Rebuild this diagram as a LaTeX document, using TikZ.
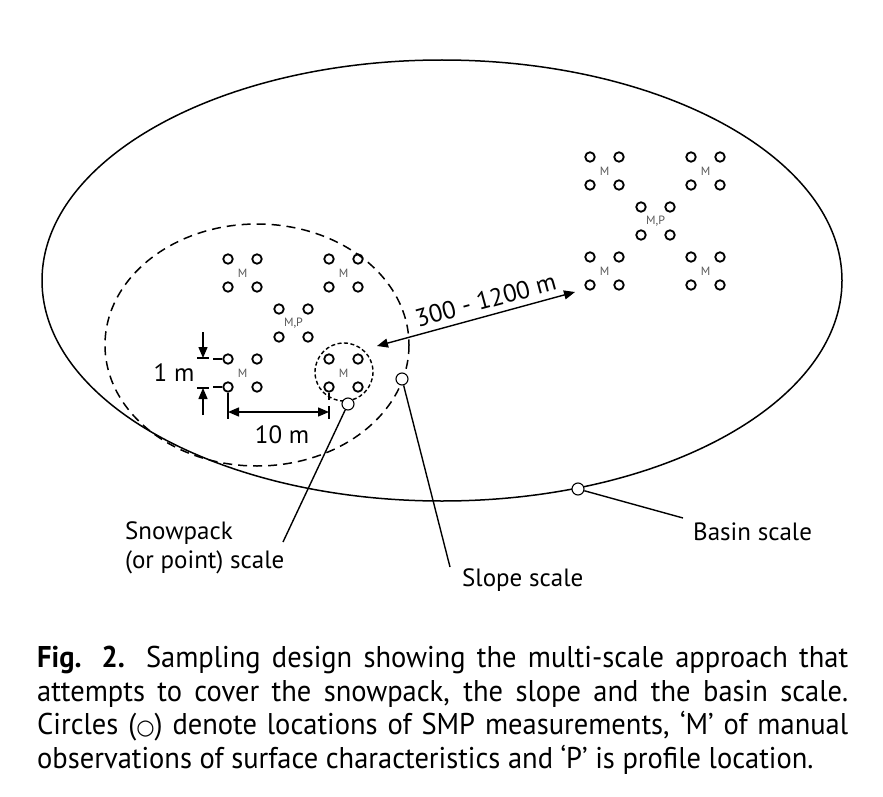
\documentclass[tikz,border=0pt]{standalone}
\usepackage{fontspec}
\setmainfont{PT Sans}
\newfontfamily\capfont{PT Sans}[FakeStretch=0.95]
\newfontfamily\symfont{DejaVu Sans}
\usetikzlibrary{arrows.meta}

\tikzset{
  smp/.style={circle, draw, line width=1.8pt, minimum size=9.5pt, inner sep=0pt},
  scaletag/.style={circle, draw, line width=1.1pt, minimum size=12pt, inner sep=0pt},
  obs/.style={font=\fontsize{12}{12}\selectfont, text=black!65, inner sep=0pt},
  lbl/.style={font=\fontsize{25}{29}\selectfont, inner sep=0pt},
  captext/.style={font=\capfont\fontsize{30}{34}\selectfont, inner sep=0pt},
  leadline/.style={line width=1.4pt},
  pointer/.style={line width=1.4pt, -{Triangle[length=11pt, width=9pt]}},
  dimarrow/.style={line width=1.4pt, {Triangle[length=11pt, width=9pt]}-{Triangle[length=11pt, width=9pt]}},
}

% one group of four SMP holes with its label in the middle
\newcommand{\smpgrid}[4]{%
  \node[smp] (#1a) at (#2,#3) {};
  \node[smp] (#1b) at (#2+29,#3) {};
  \node[smp] (#1c) at (#2,#3+28) {};
  \node[smp] (#1d) at (#2+29,#3+28) {};
  \node[obs] (#1m) at (#2+14.5,#3+14) {#4};
}

\begin{document}
\begin{tikzpicture}[x=1pt, y=-1pt]
  \useasboundingbox (0,0) rectangle (883,797);

  % === basin and slope outlines ===
  \draw[line width=1.5pt] (442,280.5) ellipse [x radius=400, y radius=220.5];
  \draw[line width=1.5pt, dash pattern=on 9pt off 6pt] (257,345) ellipse [x radius=152, y radius=121];
  \draw[line width=1.4pt, dash pattern=on 4pt off 2.5pt] (344,372) circle [radius=29];

  % === sampling grids (left slope, right slope) ===
  \foreach \g/\ox/\oy in {L/0/0, R/362/-102} {
    \smpgrid{\g1}{228+\ox}{259+\oy}{M}
    \smpgrid{\g2}{329+\ox}{259+\oy}{M}
    \smpgrid{\g3}{279+\ox}{309+\oy}{M,P}
    \smpgrid{\g4}{228+\ox}{359+\oy}{M}
    \smpgrid{\g5}{329+\ox}{359+\oy}{M}
  }

  % === 1 m spacing ===
  \coordinate (onetop) at (203,358);
  \coordinate (onebot) at (203,388);
  \draw[leadline] (L4a.west) -- ++(-9,0);
  \draw[leadline] (L4c.west) -- ++(-9,0);
  \draw[leadline] (onetop) ++(-6,0) -- ++(12,0);
  \draw[leadline] (onebot) ++(-6,0) -- ++(12,0);
  \draw[pointer] (onetop) ++(0,-26) -- (onetop);
  \draw[pointer] (onebot) ++(0,27) -- (onebot);
  \node[lbl] (onelbl) at (174,373) {1 m};

  % === 10 m spacing ===
  \coordinate (tenL) at (228,412);
  \coordinate (tenR) at (329,412);
  \draw[leadline] (L4c.south) -- (228,419);
  \draw[leadline] (L5c.south) -- ++(0,7);
  \draw[leadline] (tenR) ++(0,-6) -- ++(0,13);
  \draw[dimarrow] (tenL) -- (tenR);
  \node[lbl] (tenlbl) at (282,435) {10 m};

  % === distance between slopes ===
  \coordinate (near) at (377,346);
  \coordinate (far) at (575,292);
  \draw[dimarrow] (near) -- node[lbl, sloped, pos=0.57, above=6pt] {300 - 1200 m} (far);

  % === scale labels ===
  \node[scaletag, fill=white] (snowtag) at (348,404) {};
  \node[scaletag, fill=white] (slopetag) at (402,379) {};
  \node[scaletag, fill=white] (basintag) at (578,489) {};
  \coordinate (snowend) at (283,542);
  \coordinate (slopeend) at (450,567);
  \coordinate (basinend) at (683,518);
  \draw[leadline] (snowtag) -- (snowend);
  \draw[leadline] (slopetag) -- (slopeend);
  \draw[leadline] (basintag) -- (basinend);
  \node[lbl, anchor=west, align=left] (snowlbl) at (125,548) {Snowpack\\(or point) scale};
  \node[lbl, anchor=west] (slopelbl) at (462,580) {Slope scale};
  \node[lbl, anchor=west] (basinlbl) at (693,532) {Basin scale};

  % === caption ===
  \node[captext, anchor=base west] (cap1) at (37,667) {\makebox[811pt][s]{\textbf{Fig. 2.} Sampling design showing the multi-scale approach that}};
  \node[captext, anchor=base west] (cap2) at (37,701) {\makebox[811pt][s]{attempts to cover the snowpack, the slope and the basin scale.}};
  \node[captext, anchor=base west] (cap3) at (37,734) {\makebox[811pt][s]{Circles ({\symfont\fontsize{21}{21}\selectfont ○}) denote locations of SMP measurements, ‘M’ of manual}};
  \node[captext, anchor=base west] (cap4) at (37,768) {observations of surface characteristics and ‘P’ is profile location.};
\end{tikzpicture}
\end{document}
